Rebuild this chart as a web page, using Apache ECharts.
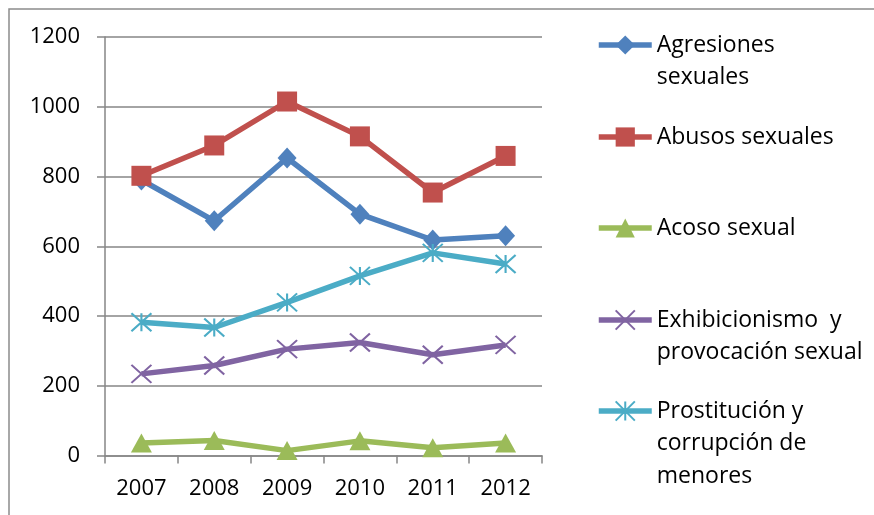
<!DOCTYPE html>
<html>
<head>
<meta charset="utf-8">
<script src="https://cdn.jsdelivr.net/npm/echarts@6/dist/echarts.min.js"></script>
<style>
  html, body { margin: 0; padding: 0; background: #ffffff; }
  #chart { width: 874px; height: 515px; }
</style>
</head>
<body>
<div id="chart"></div>
<script>
// Years on the category axis
var years = ['2007', '2008', '2009', '2010', '2011', '2012'];

// Recorded offences per year, one array per type
var agresiones = [790, 673, 853, 692, 618, 630];
var abusos = [802, 889, 1015, 915, 754, 859];
var acoso = [36, 43, 14, 42, 22, 36];
var exhibicionismo = [234, 258, 305, 324, 289, 317];
var prostitucion = [382, 367, 439, 515, 581, 549];

// Legend labels (with their line breaks)
var names = [
  'Agresiones\nsexuales',
  'Abusos sexuales',
  'Acoso sexual',
  'Exhibicionismo  y\nprovocación sexual',
  'Prostitución y\ncorrupción de\nmenores'
];

var FONT = '"Open Sans", "Noto Sans", sans-serif';
var AXIS_GRAY = '#868686';
var LINE_H = 32.5;

var xMark = 'path://M0,0L10,10M10,0L0,10';
var starMark = 'path://M5,0L5,10M0,0L10,10M10,0L0,10';

function lineSeries(name, data, color, symbol, size, stroked) {
  return {
    name: name,
    type: 'line',
    data: data,
    symbol: symbol,
    symbolSize: size,
    showAllSymbol: true,
    lineStyle: { color: color, width: 5.5 },
    itemStyle: stroked
      ? { color: 'rgba(0,0,0,0)', borderColor: color, borderWidth: 2 }
      : { color: color, borderColor: color, borderWidth: 0 },
    emphasis: { disabled: true },
    animation: false
  };
}

// One legend per entry so each can sit at its own height.
// Empty lines are put before the label so that, once the text block
// is centred on the icon, its first real line is level with the icon.
var legendCenters = [45, 137, 228, 320, 411];
var legends = names.map(function (n, i) {
  var lines = n.split('\n').length;
  var pad = new Array(lines).join('\n');
  return {
    data: [n],
    left: 596,
    top: legendCenters[i] - (2 * lines - 1) * LINE_H / 2,
    padding: 0,
    itemWidth: 53,
    itemHeight: 24,
    selectedMode: false,
    formatter: function (name) { return pad + name; },
    lineStyle: { width: 5.5 },
    textStyle: {
      fontFamily: FONT,
      fontSize: 23,
      color: '#000000',
      lineHeight: LINE_H
    }
  };
});

var chart = echarts.init(document.getElementById('chart'), null, { renderer: 'canvas' });

chart.setOption({
  backgroundColor: '#ffffff',
  animation: false,
  graphic: [{
    type: 'rect',
    shape: { x: 9, y: 9, width: 900, height: 540 },
    style: { fill: 'none', stroke: '#8c8c8c', lineWidth: 1.5 },
    silent: true
  }],
  legend: legends,
  grid: { left: 105, top: 37, width: 437, height: 418.5, containLabel: false },
  xAxis: {
    type: 'category',
    data: years,
    boundaryGap: true,
    axisLine: { lineStyle: { color: AXIS_GRAY, width: 1.5 } },
    axisTick: { show: true, length: 8, inside: false, lineStyle: { color: AXIS_GRAY, width: 1.5 } },
    axisLabel: { fontFamily: FONT, fontSize: 22, color: '#000000', margin: 22 },
    splitLine: { show: false }
  },
  yAxis: {
    type: 'value',
    min: 0,
    max: 1200,
    interval: 200,
    axisLine: { show: true, lineStyle: { color: AXIS_GRAY, width: 1.5 } },
    axisTick: { show: true, length: 8, lineStyle: { color: AXIS_GRAY, width: 1.5 } },
    axisLabel: {
      fontFamily: FONT, fontSize: 22, color: '#000000', margin: 25,
      formatter: function (v) { return String(v); }
    },
    splitLine: { show: true, lineStyle: { color: AXIS_GRAY, width: 1.5 } }
  },
  series: [
    lineSeries(names[0], agresiones, '#4F81BD', 'diamond', [19, 21], false),
    lineSeries(names[1], abusos, '#C0504D', 'rect', 20, false),
    lineSeries(names[2], acoso, '#9BBB59', 'triangle', [21, 19], false),
    lineSeries(names[3], exhibicionismo, '#8064A2', xMark, [20, 18], true),
    lineSeries(names[4], prostitucion, '#4BACC6', starMark, [20, 18], true)
  ]
});
</script>
</body>
</html>
